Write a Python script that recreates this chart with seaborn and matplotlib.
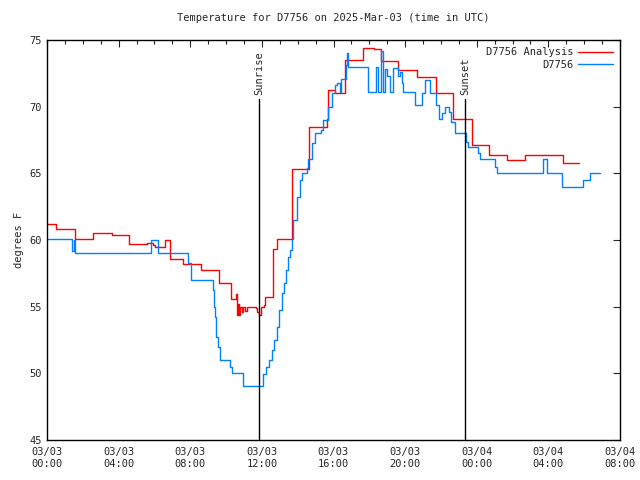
import matplotlib
matplotlib.use("Agg")
import matplotlib.pyplot as plt
import seaborn as sns
import pandas as pd
from matplotlib.ticker import MultipleLocator

# Analysis series (hours since 03/03 00:00 UTC, degrees F)
analysis_hours = [0.0, 0.50, 1.56, 2.57, 3.63, 4.58, 5.58, 5.92, 6.03, 6.59, 6.87, 7.60,
                  8.60, 9.60, 10.28, 10.55, 10.60, 10.67, 10.72, 10.78, 10.89, 10.95,
                  11.06, 11.17, 11.67, 11.73, 11.84, 11.95, 12.12, 12.17, 12.62, 12.85,
                  13.68, 14.63, 15.64, 15.69, 16.08, 16.64, 17.65, 18.26, 18.65, 19.60,
                  20.66, 21.72, 22.67, 23.73, 24.68, 25.69, 26.69, 27.70, 28.82, 29.71]
analysis_temp = [61.2, 60.8, 60.05, 60.5, 60.35, 59.7, 59.8, 59.6, 59.45, 60.0, 58.6, 58.2,
                 57.75, 56.8, 55.6, 55.95, 54.4, 55.2, 54.4, 55.0, 54.6, 55.0,
                 54.7, 55.0, 54.9, 54.6, 54.4, 55.0, 55.1, 55.7, 59.3, 60.05,
                 65.3, 68.5, 69.1, 71.25, 71.0, 73.5, 74.4, 74.3, 73.4, 72.75,
                 72.2, 71.0, 69.1, 67.1, 66.4, 66.0, 66.4, 66.35, 65.8, 65.8]

# Observed series
obs_hours = [0.0, 1.40, 1.48, 1.56, 5.81, 6.20, 7.87, 8.04, 9.27, 9.33, 9.38, 9.44,
             9.55, 9.66, 10.22, 10.33, 10.95, 12.06, 12.23, 12.40, 12.57, 12.68,
             12.85, 12.96, 13.12, 13.24, 13.35, 13.46, 13.57, 13.68, 13.74, 13.96,
             14.13, 14.24, 14.52, 14.58, 14.80, 14.97, 15.30, 15.41, 15.69, 15.92,
             16.08, 16.20, 16.36, 16.42, 16.70, 16.75, 16.81, 17.93, 18.37, 18.49,
             18.65, 18.76, 18.88, 18.99, 19.16, 19.32, 19.60, 19.71, 19.82, 19.88,
             20.55, 20.94, 21.11, 21.39, 21.72, 21.89, 22.06, 22.23, 22.45, 22.56,
             22.79, 23.40, 23.51, 24.07, 24.18, 25.02, 25.13, 27.70, 27.92, 28.76,
             29.93, 30.33, 30.88]
obs_temp = [60.05, 59.2, 60.0, 59.0, 60.0, 59.0, 58.25, 57.0, 56.25, 55.0, 54.2, 52.7,
            52.0, 51.0, 50.5, 50.0, 49.05, 49.95, 50.5, 51.0, 51.75, 52.5,
            53.5, 54.75, 56.0, 56.8, 57.75, 58.75, 59.25, 60.05, 61.5, 63.2,
            64.5, 65.0, 65.4, 66.1, 67.25, 68.0, 68.25, 69.0, 70.0, 71.0,
            71.6, 71.75, 71.1, 72.1, 73.1, 74.0, 73.0, 71.1, 73.0, 71.1,
            74.2, 71.1, 72.8, 72.3, 71.1, 72.9, 72.3, 72.6, 71.75, 71.1,
            70.1, 71.0, 72.0, 71.0, 70.1, 69.1, 69.5, 70.0, 69.6, 68.85,
            68.0, 67.35, 67.0, 66.5, 66.05, 65.5, 65.0, 66.05, 65.0, 63.95,
            64.5, 65.0, 65.0]

sunrise_hour = 11.84
sunset_hour = 23.35
tick_hours = [0, 4, 8, 12, 16, 20, 24, 28, 32]
tick_labels = ["03/03\n00:00", "03/03\n04:00", "03/03\n08:00", "03/03\n12:00",
               "03/03\n16:00", "03/03\n20:00", "03/04\n00:00", "03/04\n04:00",
               "03/04\n08:00"]

sns.set_style("white")
plt.rcParams['font.family'] = ['DejaVu Sans Mono', 'DejaVu Sans']
plt.rcParams['font.size'] = 7.5

fig = plt.figure(figsize=(6.4, 4.8), dpi=100)
ax = fig.add_axes([47/640, 40/480, 573/640, 400/480])

df_a = pd.DataFrame({"h": analysis_hours, "t": analysis_temp})
df_o = pd.DataFrame({"h": obs_hours, "t": obs_temp})

sns.lineplot(data=df_a, x="h", y="t", ax=ax, color="#ff0000", lw=1.0,
             drawstyle="steps-post", estimator=None, sort=False, label="D7756 Analysis")
sns.lineplot(data=df_o, x="h", y="t", ax=ax, color="#0080ff", lw=1.0,
             drawstyle="steps-post", estimator=None, sort=False, label="D7756")

for h, name in [(sunrise_hour, "Sunrise"), (sunset_hour, "Sunset")]:
    ax.plot([h, h], [45, 70.6], color="black", lw=1.0)
    ax.text(h, 70.9, name, rotation=90, ha="center", va="bottom", fontsize=7.5)

ax.set_xlim(0, 32)
ax.set_ylim(45, 75)
ax.set_xticks(tick_hours)
ax.set_xticklabels(tick_labels)
ax.xaxis.set_minor_locator(MultipleLocator(1))
ax.yaxis.set_major_locator(MultipleLocator(5))
ax.tick_params(direction="in", which="both", top=True, right=True, length=5, width=0.8)
ax.tick_params(which="minor", length=3)
ax.tick_params(axis="x", pad=5)
for s in ax.spines.values():
    s.set_color("black")
    s.set_linewidth(1.0)

ax.set_xlabel("")
ax.set_ylabel("degrees F", labelpad=4)
ax.set_title("Temperature for D7756 on 2025-Mar-03 (time in UTC)", fontsize=7.5, pad=14)

leg = ax.legend(loc="upper right", frameon=False, markerfirst=False, handlelength=3.3,
                borderaxespad=0.3, labelspacing=0.25, fontsize=7.5, handletextpad=0.5)

fig.savefig("out.png", dpi=100)
